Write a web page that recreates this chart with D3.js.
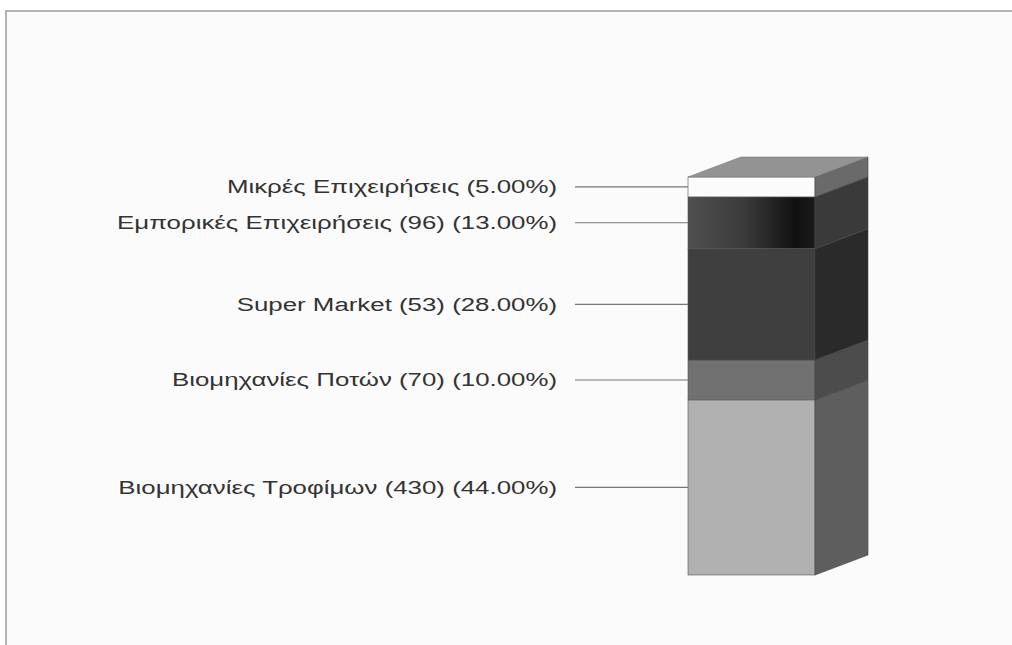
<!DOCTYPE html>
<html>
<head>
<meta charset="utf-8">
<script src="https://cdn.jsdelivr.net/npm/d3@7"></script>
<style>
  html, body { margin: 0; padding: 0; background: #ffffff; }
  svg { display: block; }
</style>
</head>
<body>
<svg id="chart" width="1012" height="645"></svg>
<script>
// Segments listed from the bottom of the column to the top
const categories = [
  "Βιομηχανίες Τροφίμων (430)",
  "Βιομηχανίες Ποτών (70)",
  "Super Market (53)",
  "Εμπορικές Επιχειρήσεις (96)",
  "Μικρές Επιχειρήσεις"
];
const shares = [44, 10, 28, 13, 5];
const shareLabels = ["44.00%", "10.00%", "28.00%", "13.00%", "5.00%"];

const frontColors = ["#b1b1b1", "#717171", "#3f3f3f", "#2c2c2c", "#fbfbfb"];
const sideColors  = ["#5e5e5e", "#4c4c4c", "#2a2a2a", "#3a3a3a", "#6a6a6a"];
const topColor = "#939393";

const svg = d3.select("#chart");
const W = 1012, H = 645;

// panel background and frame
svg.append("rect").attr("x", 0).attr("y", 0).attr("width", W).attr("height", H).attr("fill", "#ffffff");
svg.append("rect").attr("x", 6).attr("y", 11).attr("width", W - 6).attr("height", H - 11).attr("fill", "#fbfbfb");
svg.append("line").attr("x1", 5).attr("x2", W).attr("y1", 11).attr("y2", 11)
  .attr("stroke", "#b4b4b4").attr("stroke-width", 2);
svg.append("line").attr("x1", 6).attr("x2", 6).attr("y1", 11).attr("y2", H)
  .attr("stroke", "#b4b4b4").attr("stroke-width", 2);

// column geometry
const x0 = 688, x1 = 815;     // front face
const dx = 53, dy = -20;      // depth offset
const y = d3.scaleLinear().domain([0, 100]).range([575, 177]);

// stacked intervals
let acc = 0;
const segs = shares.map((v, i) => {
  const s = { i, lo: acc, hi: acc + v, v };
  acc += v;
  return s;
});

const defs = svg.append("defs");
const grad = defs.append("linearGradient").attr("id", "gradDark")
  .attr("x1", "0%").attr("x2", "100%").attr("y1", "0%").attr("y2", "0%");
grad.append("stop").attr("offset", "0%").attr("stop-color", "#505050");
grad.append("stop").attr("offset", "45%").attr("stop-color", "#3a3a3a");
grad.append("stop").attr("offset", "85%").attr("stop-color", "#111111");
grad.append("stop").attr("offset", "100%").attr("stop-color", "#1a1a1a");

const g = svg.append("g");

segs.forEach(s => {
  const yt = y(s.hi), yb = y(s.lo);
  // front face
  g.append("rect")
    .attr("x", x0).attr("y", yt).attr("width", x1 - x0).attr("height", yb - yt)
    .attr("fill", s.i === 3 ? "url(#gradDark)" : frontColors[s.i])
    .attr("stroke", "#555").attr("stroke-width", 0.6);
  // right side face
  g.append("path")
    .attr("d", `M${x1},${yt} L${x1 + dx},${yt + dy} L${x1 + dx},${yb + dy} L${x1},${yb} Z`)
    .attr("fill", sideColors[s.i])
    .attr("stroke", "#444").attr("stroke-width", 0.6);
});

// top face of the column
const yTop = y(100);
g.append("path")
  .attr("d", `M${x0},${yTop} L${x0 + dx},${yTop + dy} L${x1 + dx},${yTop + dy} L${x1},${yTop} Z`)
  .attr("fill", topColor).attr("stroke", "#777").attr("stroke-width", 0.6);

// labels with leader lines
const labels = svg.append("g");
const texts = [];
segs.forEach(s => {
  const ym = y((s.lo + s.hi) / 2);
  labels.append("line")
    .attr("x1", 575).attr("x2", x0).attr("y1", ym).attr("y2", ym)
    .attr("stroke", "#777").attr("stroke-width", 1.2);
  const t = labels.append("text")
    .attr("x", 0).attr("y", 0)
    .attr("dy", "0.36em")
    .attr("text-anchor", "end")
    .attr("font-family", "Liberation Sans, Arial, sans-serif")
    .attr("font-size", 18)
    .attr("fill", "#333333")
    .text(`${categories[s.i]} (${shareLabels[s.i]})`);
  texts.push({ t, ym });
});

// labels are set in a horizontally widened face: the longest one spans about 440px
const maxW = d3.max(texts, d => d.t.node().getComputedTextLength());
const sx = 440 / maxW;
texts.forEach(d => d.t.attr("transform", `translate(557,${d.ym}) scale(${sx.toFixed(3)},1)`));
</script>
</body>
</html>
